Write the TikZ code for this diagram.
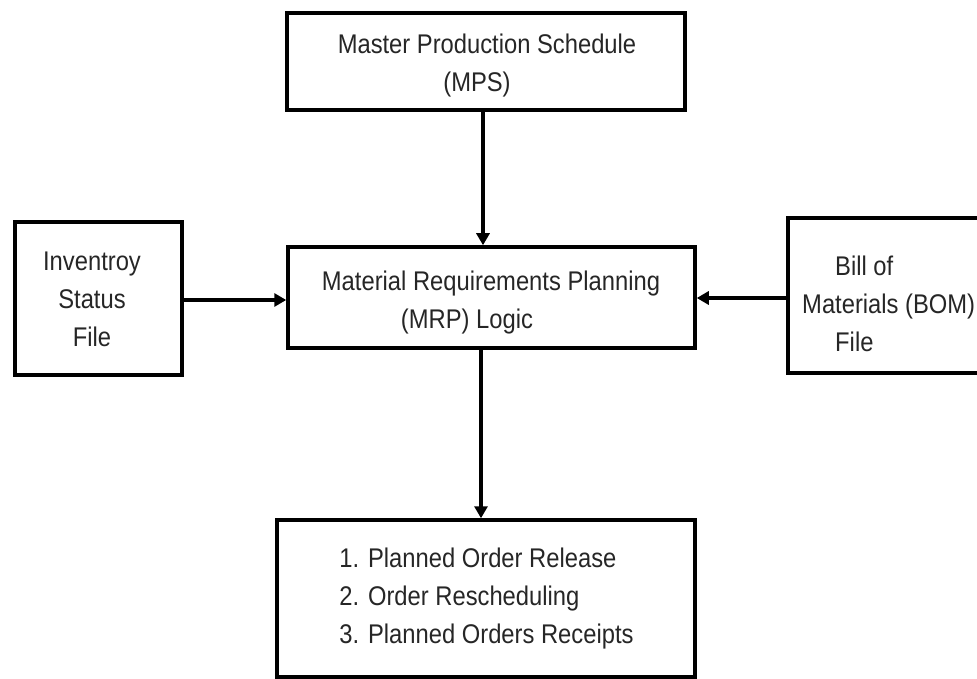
\documentclass[tikz,border=0pt]{standalone}
\usepackage{fontspec}
\setmainfont{Liberation Sans}[FakeStretch=0.88]
\usetikzlibrary{arrows.meta}
\begin{document}
\begin{tikzpicture}[x=1pt,y=-1pt,
  box/.style={draw=black, line width=3.5pt, inner sep=0pt},
  txt/.style={font=\fontsize{27}{38}\selectfont, text=black!85, inner sep=0pt, align=center},
  arr/.style={draw=black, line width=3.5pt, -{Triangle[length=12pt,width=13pt]}}]
\useasboundingbox (0,0) rectangle (977,679);
\node[box, minimum width=398pt, minimum height=97pt] (mps) at (486,61.5) {};
\node[box, minimum width=407pt, minimum height=101pt] (mrp) at (491.5,297.5) {};
\node[box, minimum width=167pt, minimum height=153pt] (inv) at (98.5,298.5) {};
\node[box, minimum width=230pt, minimum height=155pt] (bom) at (903,295.5) {};
\node[box, minimum width=418pt, minimum height=157pt] (out) at (486,598.5) {};
\node[txt] (mpsT) at (487,66) {Master Production Schedule\\(MPS)\hspace*{20pt}};
\node[txt] (mrpT) at (491,302.5) {Material Requirements Planning\\(MRP) Logic\hspace*{48pt}};
\node[txt] (invT) at (92,299) {Inventroy\\Status\\File};
\node[txt, align=left, anchor=west] (bomT) at (802,304) {\hspace*{33pt}Bill of\\Materials (BOM)\\\hspace*{33pt}File};
\node[txt, align=left] (outT) at (486.5,599) {1. Planned Order Release\\2. Order Rescheduling\\3. Planned Orders Receipts};
\draw[arr] ([xshift=-3pt]mps.south) -- ([xshift=-3pt]mps.south |- mrp.north);
\draw[arr] ([yshift=-1.5pt]inv.east) -- ([yshift=-1.5pt]inv.east -| mrp.west);
\draw[arr] ([yshift=-2.5pt]bom.west) -- ([yshift=-2.5pt]bom.west -| mrp.east);
\draw[arr] ([xshift=-5pt]out.north |- mrp.south) -- ([xshift=-5pt]out.north);
\end{tikzpicture}
\end{document}
